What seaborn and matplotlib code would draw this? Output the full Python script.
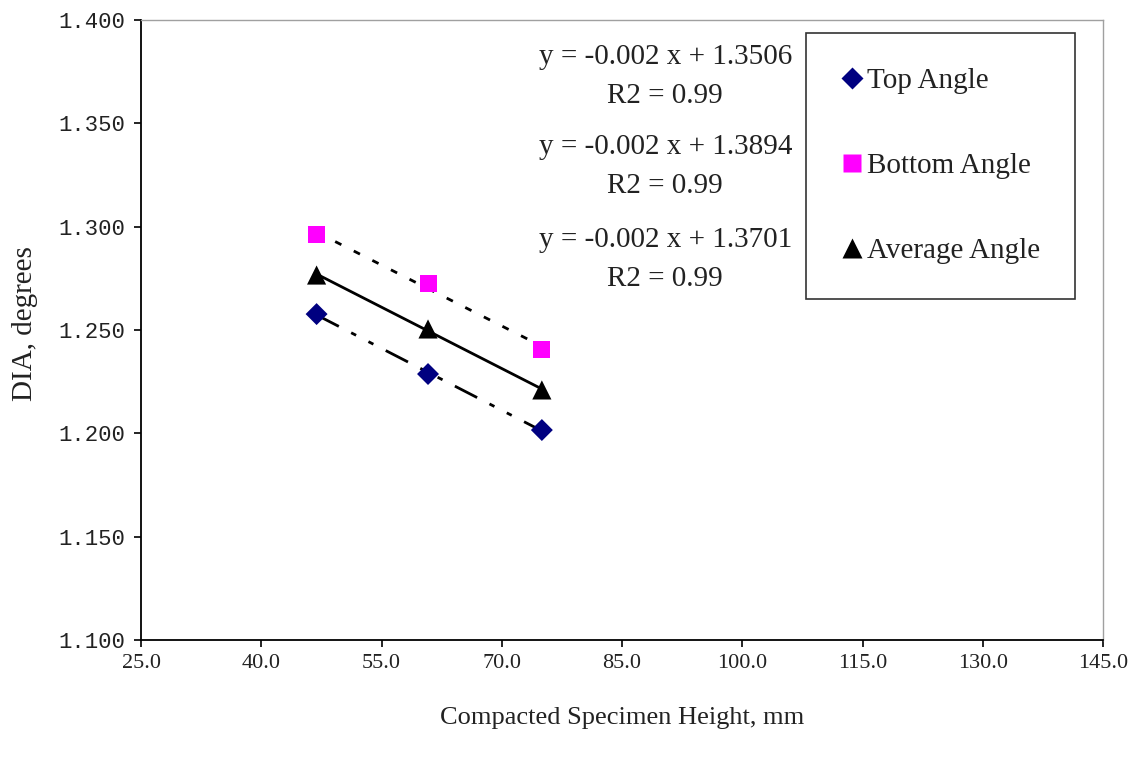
import matplotlib
matplotlib.use("Agg")
import matplotlib.pyplot as plt
import numpy as np
import pandas as pd
import seaborn as sns

# values
heights = [46.9, 60.8, 75.0]
top_angle = [1.2577, 1.2287, 1.2016]
bottom_angle = [1.2960, 1.2727, 1.2408]
average_angle = [1.2766, 1.2505, 1.2210]

series_names = ["Top Angle", "Bottom Angle", "Average Angle"]
equations = ["y = -0.002 x + 1.3506\nR2 = 0.99",
             "y = -0.002 x + 1.3894\nR2 = 0.99",
             "y = -0.002 x + 1.3701\nR2 = 0.99"]
x_ticks = [25.0, 40.0, 55.0, 70.0, 85.0, 100.0, 115.0, 130.0, 145.0]
y_ticks = [1.100, 1.150, 1.200, 1.250, 1.300, 1.350, 1.400]

df = pd.DataFrame({
    "height": heights * 3,
    "dia": top_angle + bottom_angle + average_angle,
    "series": [n for n in series_names for _ in heights],
})

sns.set_style("ticks")
plt.rcParams["font.family"] = ["Liberation Serif", "DejaVu Serif"]

fig = plt.figure(figsize=(11.41, 7.63), dpi=100)
ax = fig.add_axes([0.1236, 0.1612, 0.8431, 0.8126])

colors = {"Top Angle": "#000080", "Bottom Angle": "#FF00FF", "Average Angle": "#000000"}
markers = {"Top Angle": "D", "Bottom Angle": "s", "Average Angle": "^"}
sizes = {"Top Angle": 125, "Bottom Angle": 150, "Average Angle": 190}
line_styles = {"Top Angle": (0, (9, 5, 2, 5, 2, 5)),
               "Bottom Angle": (0, (2.5, 5)),
               "Average Angle": "-"}

# trend lines first so markers sit on top
for name in series_names:
    sub = df[df["series"] == name]
    sns.regplot(data=sub, x="height", y="dia", scatter=False, ci=None,
                truncate=True, ax=ax,
                line_kws={"color": "black", "lw": 2.0, "linestyle": line_styles[name]})

sns.scatterplot(data=df, x="height", y="dia", hue="series", style="series",
                size="series", sizes=sizes, palette=colors, markers=markers,
                edgecolor="none", ax=ax, zorder=3)

ax.set_xlim(25, 145)
ax.set_ylim(1.1, 1.4)
ax.set_xticks(x_ticks)
ax.set_xticklabels([f"{v:.1f}" for v in x_ticks])
ax.set_yticks(y_ticks)
ax.set_yticklabels([f"{v:.3f}" for v in y_ticks], family="Liberation Mono")
ax.tick_params(axis="both", direction="out", length=5, width=1.2,
               colors="black", labelcolor="#222222")
ax.tick_params(axis="x", labelsize=16, pad=5)
ax.tick_params(axis="y", labelsize=16, pad=6)

for side in ["left", "bottom"]:
    ax.spines[side].set_color("black")
    ax.spines[side].set_linewidth(1.3)
for side in ["top", "right"]:
    ax.spines[side].set_visible(True)
    ax.spines[side].set_color("#a0a0a0")
    ax.spines[side].set_linewidth(1.0)

ax.set_xlabel("Compacted Specimen Height, mm", fontsize=19, color="#222222")
ax.set_ylabel("DIA, degrees", fontsize=21, color="#222222")
ax.xaxis.set_label_coords(0.5, -0.108)
ax.yaxis.set_label_coords(-0.107, 0.51)

for eq, yf in zip(equations, [0.909, 0.763, 0.614]):
    ax.text(0.545, yf, eq, transform=ax.transAxes, ha="center", va="center",
            fontsize=21, linespacing=1.65, color="#222222")

handles, labels = ax.get_legend_handles_labels()
leg = ax.legend(handles, labels, loc="upper left",
                bbox_to_anchor=(0.691, 0.979), frameon=True, fancybox=False,
                fontsize=21, labelspacing=2.0, handletextpad=0.1,
                borderpad=1.2, handlelength=0.8, borderaxespad=0,
                labelcolor="#222222")
leg.get_frame().set_edgecolor("black")
leg.get_frame().set_linewidth(1.2)

fig.savefig("out.png", dpi=100)
